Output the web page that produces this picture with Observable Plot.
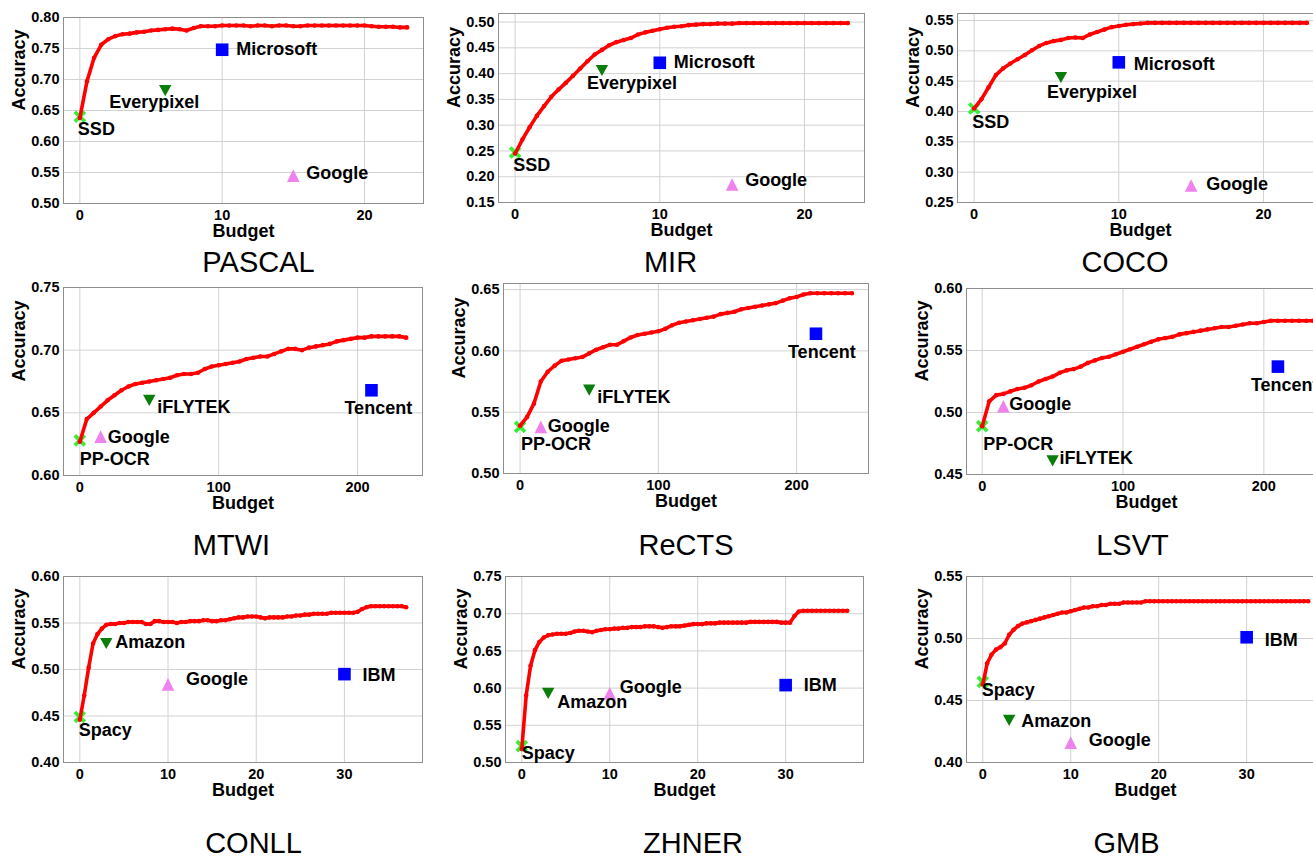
<!DOCTYPE html>
<html><head><meta charset="utf-8">
<script src="https://cdn.jsdelivr.net/npm/d3@7"></script>
<script src="https://cdn.jsdelivr.net/npm/@observablehq/plot@0.6"></script>
<style>
html,body{margin:0;padding:0;background:#fff;}
#root{position:relative;width:1313px;height:859px;overflow:hidden;background:#fff;}
.panel{position:absolute;}
.panel svg{max-width:none !important;}
</style></head><body><div id="root"></div>
<script>
// ---------------- DATA ----------------
// Budget step of the red curves (budget grid of the sampled points)
const imageStep = 0.5, ocrStep = 5, nerStep = 0.5;

const pascalAcc = [0.638,0.697,0.735,0.756,0.765,0.770,0.773,0.774,0.776,0.777,
  0.779,0.780,0.781,0.782,0.781,0.779,0.783,0.786,0.786,0.786,
  0.787,0.787,0.787,0.787,0.786,0.787,0.787,0.786,0.787,0.787,
  0.786,0.786,0.787,0.787,0.787,0.787,0.787,0.787,0.787,0.787,
  0.787,0.786,0.785,0.785,0.785,0.784,0.784];
const mirAcc = [0.245,0.272,0.296,0.318,0.337,0.355,0.369,0.382,0.396,0.410,
  0.424,0.437,0.446,0.455,0.461,0.465,0.469,0.476,0.480,0.483,
  0.486,0.489,0.491,0.492,0.494,0.495,0.496,0.496,0.497,0.497,
  0.497,0.498,0.498,0.498,0.498,0.498,0.498,0.498,0.498,0.498,
  0.498,0.498,0.498,0.498,0.498,0.498,0.498];
const cocoAcc = [0.405,0.420,0.440,0.460,0.471,0.479,0.486,0.493,0.501,0.508,
  0.513,0.516,0.518,0.521,0.522,0.521,0.527,0.531,0.535,0.539,
  0.541,0.543,0.544,0.545,0.546,0.546,0.546,0.546,0.546,0.546,
  0.546,0.546,0.546,0.546,0.546,0.546,0.546,0.546,0.546,0.546,
  0.546,0.546,0.546,0.546,0.546,0.546,0.546];
const mtwiAcc = [0.627,0.645,0.650,0.655,0.660,0.664,0.668,0.671,0.673,0.674,
  0.675,0.676,0.677,0.678,0.680,0.681,0.681,0.682,0.685,0.687,
  0.688,0.689,0.690,0.691,0.693,0.694,0.695,0.695,0.697,0.699,
  0.701,0.701,0.700,0.702,0.703,0.704,0.705,0.707,0.708,0.709,
  0.710,0.710,0.711,0.711,0.711,0.711,0.711,0.710];
const rectsAcc = [0.539,0.546,0.557,0.575,0.583,0.588,0.592,0.593,0.594,0.595,
  0.598,0.601,0.603,0.605,0.605,0.608,0.611,0.613,0.614,0.615,
  0.616,0.618,0.621,0.623,0.624,0.625,0.626,0.627,0.628,0.630,
  0.631,0.632,0.634,0.635,0.636,0.637,0.638,0.639,0.641,0.643,
  0.644,0.646,0.647,0.647,0.647,0.647,0.647,0.647,0.647];
const lsvtAcc = [0.489,0.509,0.514,0.515,0.517,0.519,0.520,0.522,0.525,0.527,
  0.529,0.532,0.534,0.535,0.537,0.540,0.542,0.544,0.545,0.547,
  0.549,0.551,0.553,0.555,0.557,0.559,0.560,0.561,0.563,0.564,
  0.565,0.566,0.567,0.568,0.569,0.569,0.570,0.571,0.572,0.572,
  0.573,0.574,0.574,0.574,0.574,0.574,0.574,0.574,0.574];
const conllAcc = [0.446,0.472,0.502,0.528,0.538,0.544,0.548,0.549,0.549,0.550,
  0.550,0.551,0.551,0.551,0.551,0.549,0.549,0.552,0.552,0.551,
  0.551,0.551,0.550,0.551,0.551,0.552,0.552,0.552,0.553,0.553,
  0.552,0.552,0.553,0.553,0.554,0.555,0.556,0.556,0.557,0.557,
  0.557,0.556,0.555,0.556,0.556,0.556,0.556,0.557,0.557,0.558,
  0.558,0.559,0.559,0.560,0.560,0.560,0.560,0.561,0.561,0.561,
  0.561,0.561,0.561,0.562,0.565,0.567,0.568,0.568,0.568,0.568,
  0.568,0.568,0.568,0.568,0.567];
const zhnerAcc = [0.518,0.590,0.630,0.651,0.662,0.668,0.671,0.672,0.673,0.673,
  0.673,0.674,0.676,0.677,0.677,0.676,0.675,0.677,0.678,0.679,
  0.679,0.680,0.680,0.681,0.681,0.682,0.682,0.682,0.683,0.683,
  0.683,0.682,0.681,0.682,0.683,0.683,0.683,0.684,0.685,0.686,
  0.686,0.686,0.687,0.687,0.687,0.688,0.688,0.688,0.688,0.688,
  0.688,0.688,0.689,0.689,0.689,0.689,0.689,0.689,0.689,0.688,
  0.688,0.688,0.697,0.703,0.704,0.704,0.704,0.704,0.704,0.704,
  0.704,0.704,0.704,0.704,0.704];
const gmbAcc = [0.463,0.480,0.487,0.491,0.493,0.496,0.503,0.507,0.510,0.512,
  0.513,0.514,0.515,0.516,0.517,0.518,0.519,0.520,0.521,0.521,
  0.522,0.523,0.524,0.525,0.525,0.526,0.526,0.527,0.527,0.528,
  0.528,0.528,0.529,0.529,0.529,0.529,0.529,0.530,0.530,0.530,
  0.530,0.530,0.530,0.530,0.530,0.530,0.530,0.530,0.530,0.530,
  0.530,0.530,0.530,0.530,0.530,0.530,0.530,0.530,0.530,0.530,
  0.530,0.530,0.530,0.530,0.530,0.530,0.530,0.530,0.530,0.530,
  0.530,0.530,0.530,0.530,0.530];

// Commercial / open-source API points (order: open-source, API-1, API-2, Google)
const imageApis = ["SSD","Everypixel","Microsoft","Google"];
const ocrApis = ["PP-OCR","iFLYTEK","Tencent","Google"];
const nerApis = ["Spacy","Amazon","IBM","Google"];
const pascalApiBudget = [0,6,10,15], pascalApiAcc = [0.640,0.682,0.748,0.545];
const mirApiBudget = [0,6,10,15],    mirApiAcc = [0.247,0.406,0.421,0.185];
const cocoApiBudget = [0,6,10,15],   cocoApiAcc = [0.405,0.456,0.481,0.278];
const mtwiApiBudget = [0,50,210,15], mtwiApiAcc = [0.628,0.660,0.668,0.631];
const rectsApiBudget = [0,50,214,15],rectsApiAcc = [0.538,0.568,0.614,0.538];
const lsvtApiBudget = [0,50,210,15], lsvtApiAcc = [0.489,0.461,0.537,0.505];
const conllApiBudget = [0,3,30,10],  conllApiAcc = [0.449,0.528,0.495,0.484];
const zhnerApiBudget = [0,3,30,10],  zhnerApiAcc = [0.522,0.593,0.604,0.593];
const gmbApiBudget = [0,3,30,10],    gmbApiAcc = [0.465,0.434,0.501,0.416];

// Tick labels
const imageXTicks = [0,10,20], ocrXTicks = [0,100,200], nerXTicks = [0,10,20,30];
const pascalYTicks = [0.50,0.55,0.60,0.65,0.70,0.75,0.80];
const mirYTicks = [0.15,0.20,0.25,0.30,0.35,0.40,0.45,0.50];
const cocoYTicks = [0.25,0.30,0.35,0.40,0.45,0.50,0.55];
const mtwiYTicks = [0.60,0.65,0.70,0.75];
const rectsYTicks = [0.50,0.55,0.60,0.65];
const lsvtYTicks = [0.45,0.50,0.55,0.60];
const conllYTicks = [0.40,0.45,0.50,0.55,0.60];
const zhnerYTicks = [0.50,0.55,0.60,0.65,0.70,0.75];
const gmbYTicks = [0.40,0.45,0.50,0.55];

// ---------------- LAYOUT / STYLE ----------------
const FONT = '"Liberation Sans", Arial, Helvetica, sans-serif';
const panels = [
  {title:"PASCAL", acc:pascalAcc, step:imageStep, names:imageApis, ax:pascalApiBudget, ay:pascalApiAcc, xt:imageXTicks, yt:pascalYTicks,
   frame:[63,17,423,203], xd:[-1.15,24.15], yd:[0.50,0.80], titleOff:[15,68],
   off:[[-2,18],[-56,17],[14,5],[13,3]]},
  {title:"MIR", acc:mirAcc, step:imageStep, names:imageApis, ax:mirApiBudget, ay:mirApiAcc, xt:imageXTicks, yt:mirYTicks,
   frame:[498,13,864,202], xd:[-1.15,24.15], yd:[0.15,0.5166], titleOff:[-11,69],
   off:[[-2,19],[-15,18],[14,5],[13,2]]},
  {title:"COCO", acc:cocoAcc, step:imageStep, names:imageApis, ax:cocoApiBudget, ay:cocoApiAcc, xt:imageXTicks, yt:cocoYTicks,
   frame:[957,13,1323,202], xd:[-1.15,24.15], yd:[0.25,0.5615], titleOff:[-15.5,69],
   off:[[-2,20],[-14,20],[15,8],[15,4]]},
  {title:"MTWI", acc:mtwiAcc, step:ocrStep, names:ocrApis, ax:mtwiApiBudget, ay:mtwiApiAcc, xt:ocrXTicks, yt:mtwiYTicks,
   frame:[63,287,422,475], xd:[-11.75,246.75], yd:[0.60,0.75], titleOff:[-11.5,79],
   off:[[0,25],[8,13],[-27,24],[7,6]]},
  {title:"ReCTS", acc:rectsAcc, step:ocrStep, names:ocrApis, ax:rectsApiBudget, ay:rectsApiAcc, xt:ocrXTicks, yt:rectsYTicks,
   frame:[503,283,868,473], xd:[-12,252], yd:[0.50,0.655], titleOff:[0,81],
   off:[[1,23],[8,13],[-28,24],[7,5]]},
  {title:"LSVT", acc:lsvtAcc, step:ocrStep, names:ocrApis, ax:lsvtApiBudget, ay:lsvtApiAcc, xt:ocrXTicks, yt:lsvtYTicks,
   frame:[966,288,1326,474], xd:[-11.15,244.5], yd:[0.45,0.60], titleOff:[-14,80],
   off:[[1,24],[7,3],[-27,24],[6,4]]},
  {title:"CONLL", acc:conllAcc, step:nerStep, names:nerApis, ax:conllApiBudget, ay:conllApiAcc, xt:nerXTicks, yt:conllYTicks,
   frame:[63,576,422,762], xd:[-1.85,38.85], yd:[0.40,0.60], titleOff:[10.5,90],
   off:[[-1,19],[9,5],[18,7],[18,1]]},
  {title:"ZHNER", acc:zhnerAcc, step:nerStep, names:nerApis, ax:zhnerApiBudget, ay:zhnerApiAcc, xt:nerXTicks, yt:zhnerYTicks,
   frame:[505,576,863,762], xd:[-1.85,38.85], yd:[0.50,0.75], titleOff:[8.5,90],
   off:[[0,13],[9,15],[18,6],[10,0]]},
  {title:"GMB", acc:gmbAcc, step:nerStep, names:nerApis, ax:gmbApiBudget, ay:gmbApiAcc, xt:nerXTicks, yt:gmbYTicks,
   frame:[966,576,1324,762], xd:[-1.85,38.85], yd:[0.40,0.55], titleOff:[-19,90],
   off:[[-1,14],[12,7],[18,9],[18,3]]}
];

// custom marker shapes (matplotlib-like X, v, s, ^)
const rOf = s => Math.sqrt(s / Math.PI);
const symX = {draw(ctx, size){ const e = rOf(size), t = e*0.3, L = e*Math.SQRT2 - t;
  const pts = [[-t,-L],[t,-L],[t,-t],[L,-t],[L,t],[t,t],[t,L],[-t,L],[-t,t],[-L,t],[-L,-t],[-t,-t]];
  pts.forEach(([x,y],i)=>{const X=(x-y)/Math.SQRT2, Y=(x+y)/Math.SQRT2; i?ctx.lineTo(X,Y):ctx.moveTo(X,Y);}); ctx.closePath(); }};
const symDown = {draw(ctx, size){ const r = rOf(size); ctx.moveTo(-r,-r*0.9); ctx.lineTo(r,-r*0.9); ctx.lineTo(0,r*0.9); ctx.closePath(); }};
const symUp = {draw(ctx, size){ const r = rOf(size); ctx.moveTo(0,-r); ctx.lineTo(r,r); ctx.lineTo(-r,r); ctx.closePath(); }};
const symSq = {draw(ctx, size){ const r = rOf(size); ctx.rect(-r,-r,2*r,2*r); }};
const markerStyle = [
  {symbol:symX, r:6.3, fill:"#35ee35"},
  {symbol:symDown, r:6.2, fill:"#0b7d0b"},
  {symbol:symSq, r:6.3, fill:"#0000ff"},
  {symbol:symUp, r:6.3, fill:"#ee82ee"}
];

const root = document.getElementById("root");
const mL = 60, mR = 10, mT = 10, mB = 100;

for (const p of panels) {
  const [l, t, r, b] = p.frame;
  const W = (r - l) + mL + mR, H = (b - t) + mT + mB;
  const curve = p.acc.map((v, i) => ({x: i * p.step, y: v}));
  const apis = p.names.map((n, i) => ({name: n, x: p.ax[i], y: p.ay[i]}));
  const apiMark = i => Plot.dot([apis[i]], {x: "x", y: "y", symbol: markerStyle[i].symbol, r: markerStyle[i].r, fill: markerStyle[i].fill, stroke: "none"});
  const labels = apis.map((a, i) => Plot.text([a], {x: "x", y: "y", text: "name", dx: p.off[i][0], dy: p.off[i][1],
    textAnchor: "start", lineAnchor: "bottom", fontSize: 18, fontWeight: "bold", fill: "#000"}));
  const svg = Plot.plot({
    width: W, height: H,
    marginLeft: mL, marginRight: mR, marginTop: mT, marginBottom: mB,
    x: {domain: p.xd, label: null}, y: {domain: p.yd, label: null},
    style: {fontFamily: FONT, background: "transparent", overflow: "visible", color: "#000", maxWidth: "none"},
    marks: [
      Plot.gridX(p.xt, {stroke: "#d2d2d2", strokeOpacity: 1}),
      Plot.gridY(p.yt, {stroke: "#d2d2d2", strokeOpacity: 1}),
      Plot.frame({stroke: "#8e8e8e"}),
      Plot.axisX(p.xt, {tickSize: 0, tickPadding: 6, fontSize: 14.5, fontWeight: "bold", label: null, tickFormat: d => String(d)}),
      Plot.axisY(p.yt, {tickSize: 0, tickPadding: 4, fontSize: 14.5, fontWeight: "bold", label: null, tickFormat: d3.format(".2f")}),
      Plot.text(["Budget"], {frameAnchor: "bottom", lineAnchor: "bottom", dy: 33, fontSize: 18, fontWeight: "bold"}),
      Plot.text(["Accuracy"], {frameAnchor: "left", rotate: -90, dx: -44, fontSize: 18, fontWeight: "bold"}),
      Plot.text([p.title], {frameAnchor: "bottom", lineAnchor: "bottom", dx: p.titleOff[0], dy: p.titleOff[1], fontSize: 29}),
      apiMark(0),
      Plot.line(curve, {x: "x", y: "y", stroke: "#ff0000", strokeWidth: 3.6}),
      Plot.dot(curve, {x: "x", y: "y", r: 2.3, fill: "#ff0000", stroke: "none"}),
      apiMark(1), apiMark(2), apiMark(3),
      ...labels
    ]
  });
  svg.style.maxWidth = "none";
  svg.setAttribute("width", W);
  svg.setAttribute("height", H);
  const div = document.createElement("div");
  div.className = "panel";
  div.style.left = (l - mL) + "px";
  div.style.top = (t - mT) + "px";
  div.style.width = W + "px";
  div.style.height = H + "px";
  div.appendChild(svg);
  root.appendChild(div);
}
</script></body></html>
